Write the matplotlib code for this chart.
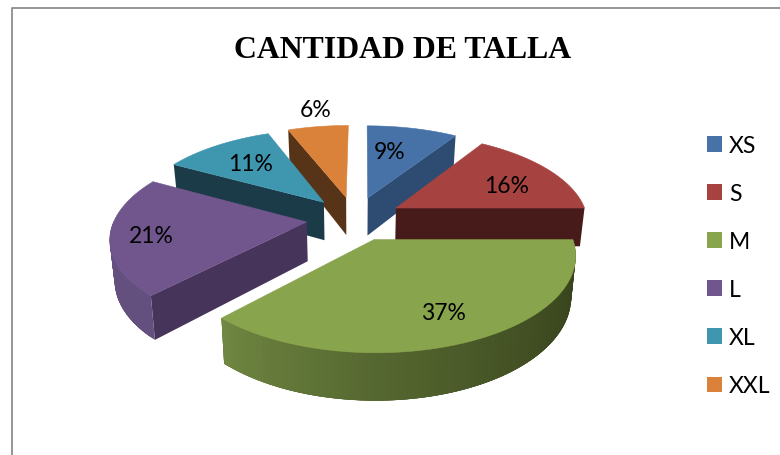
from __future__ import annotations

import numpy as np
import matplotlib

matplotlib.use("Agg")
import matplotlib.pyplot as plt
from matplotlib.colors import to_rgb
from matplotlib.patches import Patch, Polygon

TITLE = "CANTIDAD DE TALLA"
SIZES = ["XS", "S", "M", "L", "XL", "XXL"]
PERCENTS = [9, 16, 37, 21, 11, 6]

TOP_COLORS = ["#4672A8", "#A64341", "#88A44C", "#70568D", "#3F96AF", "#DA813A"]
FACE_COLORS = ["#2E4C72", "#471B19", "#37431C", "#46345A", "#1A3B47", "#573318"]
RIM_DARK = ["#2E4C72", "#471B19", "#36411B", "#5A4572", "#1A3B47", "#573318"]
RIM_LIGHT = ["#2E4C72", "#471B19", "#708842", "#63507E", "#1A3B47", "#573318"]
DRAW_ORDER = [0, 5, 4, 1, 3, 2]  # back to front
LABEL_XY = [(390, 153), (507, 187), (443, 314), (151, 237), (251, 165), (316, 111)]

# projection of the pie plane, all in reference pixels
CX, CY = 354.5, 219.5
SCALE_X, SCALE_Y = 192.0, 88.8
PERSPECTIVE = 0.152
SHEAR = -0.015
EXPLODE = 0.25
DEPTH = 39.0
BOTTOM_SHRINK = 0.98


def project(u, v, bottom=False):
    denom = 1 + PERSPECTIVE * v
    x = SCALE_X * u / denom
    y = -SCALE_Y * v / denom
    x = x + SHEAR * y
    if bottom:
        return CX + x * BOTTOM_SHRINK, CY + y + DEPTH / denom
    return CX + x, CY + y


def mix(c1, c2, t):
    a, b = np.array(to_rgb(c1)), np.array(to_rgb(c2))
    return tuple(a + (b - a) * t)


def draw_quad(ax, p1, p2, color):
    u1, v1 = p1
    u2, v2 = p2
    pts = [project(u1, v1), project(u2, v2), project(u2, v2, True), project(u1, v1, True)]
    ax.add_patch(Polygon(pts, closed=True, facecolor=color, edgecolor="none"))


def draw_wedge(ax, idx, start, end):
    mid = np.radians((start + end) / 2)
    ou, ov = EXPLODE * np.sin(mid), EXPLODE * np.cos(mid)
    angles = np.radians(np.linspace(start, end, 90))
    rim = [(ou + np.sin(a), ov + np.cos(a)) for a in angles]
    apex = (ou, ov)

    # radial cuts, only the ones facing the viewer
    if np.sin(np.radians(start)) < -1e-6:
        draw_quad(ax, apex, rim[0], FACE_COLORS[idx])
    if np.sin(np.radians(end)) > 1e-6:
        draw_quad(ax, apex, rim[-1], FACE_COLORS[idx])

    # outer wall, front half only; each strip overlaps the next one so no seams show
    for k in range(len(angles) - 1):
        deg = np.degrees(angles[k])
        if 90 <= deg <= 270:
            t = min((deg - 90) / (end - max(start, 90) or 1), 1.0) ** 1.5
            last = min(k + 4, len(angles) - 1)
            if np.degrees(angles[last]) > 270:
                last = k + 1
            draw_quad(ax, rim[k], rim[last], mix(RIM_DARK[idx], RIM_LIGHT[idx], t))

    top = [project(*apex)] + [project(u, v) for u, v in rim]
    ax.add_patch(Polygon(top, closed=True, facecolor=TOP_COLORS[idx], edgecolor=TOP_COLORS[idx], linewidth=0.4))


def main() -> int:
    fig = plt.figure(figsize=(7.8, 4.56), dpi=100)
    ax = fig.add_axes([0, 0, 1, 1])
    ax.set_xlim(0, 780)
    ax.set_ylim(456, 0)
    ax.axis("off")

    ax.plot([11.5, 11.5, 780], [456, 8.5, 8.5], color="#8C8C8C", linewidth=1.3)

    bounds = np.cumsum([0] + PERCENTS) * 3.6
    for idx in DRAW_ORDER:
        draw_wedge(ax, idx, bounds[idx], bounds[idx + 1])

    for pct, (x, y) in zip(PERCENTS, LABEL_XY):
        ax.text(x, y, f"{pct}%", ha="center", va="center", fontsize=16.5, family="Lato", color="black")

    ax.text(402.5, 51, TITLE, ha="center", va="center", fontsize=22.9, fontweight="bold",
            family="Liberation Serif", color="black")

    handles = [Patch(facecolor=c, edgecolor="none", label=s) for c, s in zip(TOP_COLORS, SIZES)]
    ax.legend(
        handles=handles,
        loc="upper left",
        bbox_to_anchor=(707 / 780, 1 - 136 / 456),
        frameon=False,
        prop={"family": "Lato", "size": 16.5},
        handlelength=0.65,
        handleheight=0.65,
        handletextpad=0.3,
        labelspacing=1.18,
        borderpad=0,
        borderaxespad=0,
    )

    fig.savefig("out.png", dpi=100, facecolor="white")
    plt.close(fig)
    return 0


if __name__ == "__main__":
    raise SystemExit(main())
